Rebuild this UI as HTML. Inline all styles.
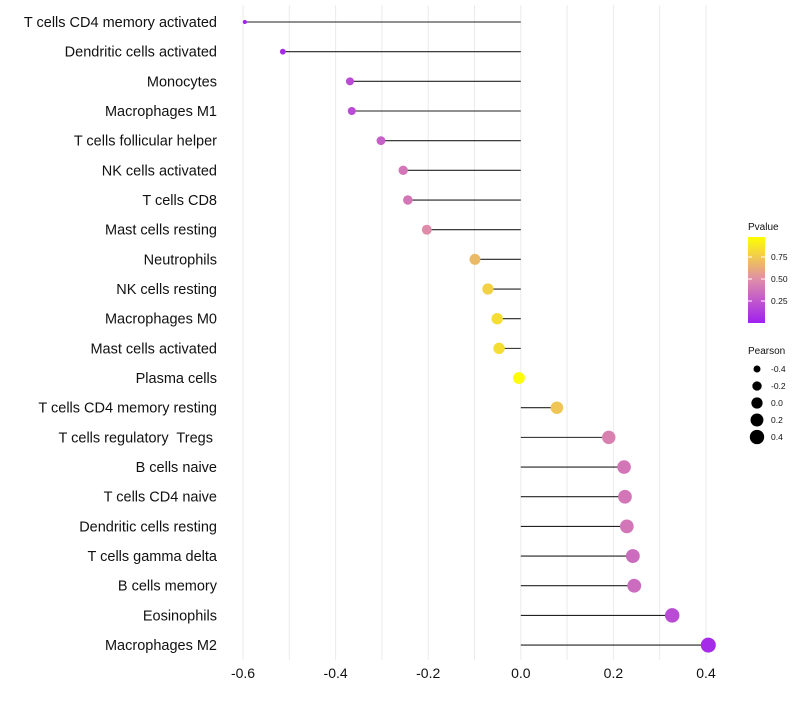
<!DOCTYPE html>
<html><head><meta charset="utf-8"><style>
body{margin:0;background:#fff;}
svg text{font-family:"Liberation Sans",sans-serif;white-space:pre;}
</style></head><body>
<svg id="chart" width="800" height="700"></svg>
<script>
const categories=["T cells CD4 memory activated","Dendritic cells activated","Monocytes","Macrophages M1","T cells follicular helper","NK cells activated","T cells CD8","Mast cells resting","Neutrophils","NK cells resting","Macrophages M0","Mast cells activated","Plasma cells","T cells CD4 memory resting","T cells regulatory  Tregs ","B cells naive","T cells CD4 naive","Dendritic cells resting","T cells gamma delta","B cells memory","Eosinophils","Macrophages M2"];
const pearson=[-0.596,-0.514,-0.369,-0.365,-0.302,-0.254,-0.244,-0.203,-0.099,-0.071,-0.051,-0.047,-0.004,0.078,0.19,0.223,0.225,0.229,0.242,0.245,0.327,0.405];
const pvalue=[0.01,0.05,0.2,0.2,0.3,0.4,0.4,0.5,0.7,0.8,0.85,0.85,0.99,0.75,0.45,0.4,0.4,0.4,0.35,0.35,0.2,0.05];
const xTicks=[-0.6,-0.4,-0.2,0.0,0.2,0.4];
const pTicks=[0.25,0.5,0.75];
const sizeTicks=[-0.4,-0.2,0.0,0.2,0.4];
const NS="http://www.w3.org/2000/svg";
const svg=document.getElementById('chart');
function mk(t,a,p){const e=document.createElementNS(NS,t);for(const k in a)e.setAttribute(k,a[k]);(p||svg).appendChild(e);return e;}
const x=v=>520.8+v*463;
const y=i=>22+i*29.67;
const r=v=>Math.sqrt(4+52*Math.max(0,(v+0.6)));
function col(p){const stops=[[0,[160,32,240]],[0.5,[222,140,170]],[1,[255,255,0]]];
 let a=stops[0],b=stops[1];if(p>0.5){a=stops[1];b=stops[2];}
 const t=(p-a[0])/(b[0]-a[0]);const c=a[1].map((v,k)=>Math.round(v+(b[1][k]-v)*t));return `rgb(${c})`;}
for(let v=-0.6;v<=0.41;v+=0.1){const g=mk('line',{x1:x(v),x2:x(v),y1:5,y2:660,stroke:'#ebebeb','stroke-width':1});

}
xTicks.forEach(t=>{const e=mk('text',{x:x(t),y:678,'text-anchor':'middle','font-size':14,fill:'#111'});e.textContent=t.toFixed(1);

});
categories.forEach((c,i)=>{
 const l=mk('text',{x:217,y:y(i)+5,'text-anchor':'end','font-size':14.5,fill:'#111'});l.textContent=c;
 
 
 const s=mk('line',{x1:x(0),x2:x(pearson[i]),y1:y(i),y2:y(i),stroke:'#222','stroke-width':1.1});
 
 
 const d=mk('circle',{cx:x(pearson[i]),cy:y(i),r:r(pearson[i]),fill:col(pvalue[i])});
 
 
});
const t1=mk('text',{x:748,y:230,'font-size':10,fill:'#111'});t1.textContent='Pvalue';


const defs=mk('defs',{});const lg=mk('linearGradient',{id:'pg',x1:0,y1:1,x2:0,y2:0},defs);
[0,0.25,0.5,0.75,1].forEach(o=>mk('stop',{offset:o,'stop-color':col(o)},lg));
const bar=mk('rect',{x:748,y:237,width:17,height:86,fill:'url(#pg)'});


const py=p=>323-p*88;
pTicks.forEach(p=>{mk('line',{x1:748,x2:752,y1:py(p),y2:py(p),stroke:'#fff'});mk('line',{x1:761,x2:765,y1:py(p),y2:py(p),stroke:'#fff'});
 const e=mk('text',{x:771,y:py(p)+3,'font-size':8.5,fill:'#111'});e.textContent=p.toFixed(2);
 
 });
const t2=mk('text',{x:748,y:354,'font-size':10,fill:'#111'});t2.textContent='Pearson';


sizeTicks.forEach((s,i)=>{const cy=369+i*17;
 const c=mk('circle',{cx:757,cy:cy,r:r(s)-0.3,fill:'#000'});
 
 
 const e=mk('text',{x:771,y:cy+3,'font-size':8.5,fill:'#111'});e.textContent=s.toFixed(1);
 
 });
</script>
</body></html>
